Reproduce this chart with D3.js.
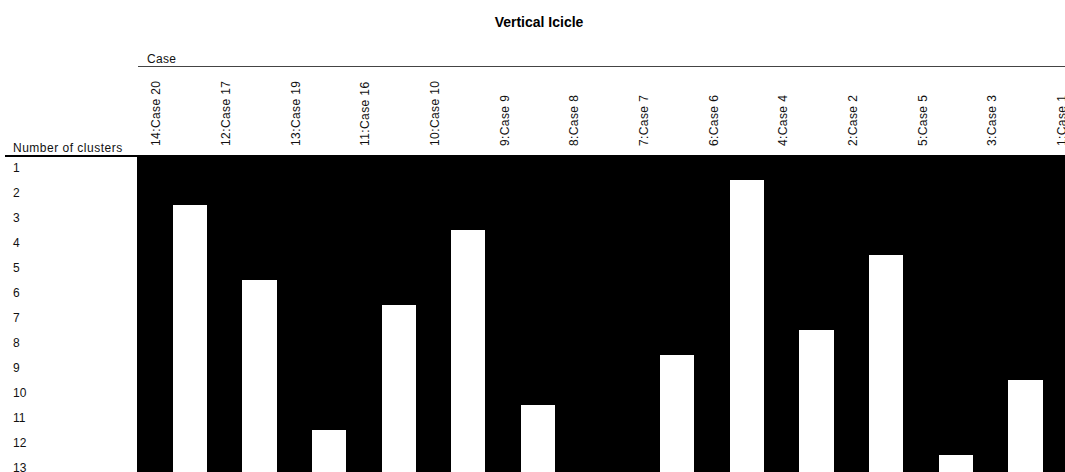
<!DOCTYPE html>
<html>
<head>
<meta charset="utf-8">
<script src="https://cdn.jsdelivr.net/npm/d3@7"></script>
<style>
  html, body { margin: 0; padding: 0; background: #fff; overflow: hidden; }
  svg { display: block; font-family: "Liberation Sans", Arial, sans-serif; }
</style>
</head>
<body>
<svg id="chart" width="1065" height="472"></svg>
<script>
// Case order along the icicle (left to right)
const caseLabels = ["14:Case 20", "12:Case 17", "13:Case 19", "11:Case 16", "10:Case 10",
  "9:Case 9", "8:Case 8", "7:Case 7", "6:Case 6", "4:Case 4", "2:Case 2", "5:Case 5",
  "3:Case 3", "1:Case 1"];

// For each gap between neighbouring cases: number of clusters at which they separate
// (14 = still joined at every level shown)
const splitAt = [3, 6, 12, 7, 4, 11, 14, 9, 2, 8, 5, 13, 10];

// Row labels: number of clusters
const clusterCounts = d3.range(1, 14);

const svg = d3.select("#chart");
const plotTop = 155, rowH = 25;
const plotBottom = plotTop + rowH * clusterCounts.length;

const x = d3.scaleBand()
  .domain(caseLabels)
  .range([137.2, 1077.6])
  .paddingInner(0.5)
  .paddingOuter(0);

const y = d3.scaleBand()
  .domain(clusterCounts)
  .range([plotTop, plotBottom])
  .padding(0);

// Title
svg.append("text")
  .attr("x", 539).attr("y", 27)
  .attr("text-anchor", "middle")
  .attr("font-size", 14).attr("font-weight", "bold")
  .text("Vertical Icicle");

// Header
svg.append("text")
  .attr("x", 147).attr("y", 62.5)
  .attr("font-size", 12).attr("letter-spacing", 0.3)
  .attr("fill", "#111")
  .text("Case");
svg.append("line")
  .attr("x1", 138).attr("x2", 1065)
  .attr("y1", 66.5).attr("y2", 66.5)
  .attr("stroke", "#444").attr("stroke-width", 1);

svg.append("text")
  .attr("x", 13).attr("y", 152)
  .attr("font-size", 12).attr("letter-spacing", 0.5)
  .attr("fill", "#111")
  .text("Number of clusters");
svg.append("line")
  .attr("x1", 5).attr("x2", 138)
  .attr("y1", 156).attr("y2", 156)
  .attr("stroke", "#000").attr("stroke-width", 2);

// Case column labels, reading upward from just above the plot
svg.append("g").selectAll("text")
  .data(caseLabels)
  .join("text")
  .attr("transform", d => `translate(${x(d) + x.bandwidth() / 2 + 1.5},146) rotate(-90)`)
  .attr("dy", "0.35em")
  .attr("text-anchor", "start")
  .attr("font-size", 12).attr("letter-spacing", 0.4)
  .attr("fill", "#111")
  .text(d => d);

// Row labels
svg.append("g").selectAll("text")
  .data(clusterCounts)
  .join("text")
  .attr("x", 13)
  .attr("y", d => y(d) + y.bandwidth() / 2)
  .attr("dy", "0.35em")
  .attr("font-size", 12)
  .attr("fill", "#111")
  .text(d => d);

const marks = svg.append("g").attr("shape-rendering", "crispEdges");

// Case columns: each case is present at every level
marks.append("g").selectAll("rect")
  .data(caseLabels)
  .join("rect")
  .attr("x", d => x(d))
  .attr("y", plotTop)
  .attr("width", x.bandwidth() + 0.5)
  .attr("height", plotBottom - plotTop)
  .attr("fill", "#000");

// Gaps: filled while the neighbouring cases share a cluster
const gapW = x.step() - x.bandwidth();
marks.append("g").selectAll("rect")
  .data(splitAt)
  .join("rect")
  .attr("x", (d, i) => x(caseLabels[i]) + x.bandwidth())
  .attr("y", plotTop)
  .attr("width", gapW)
  .attr("height", d => (d > clusterCounts.length ? plotBottom : y(d)) - plotTop)
  .attr("fill", "#000");
</script>
</body>
</html>
